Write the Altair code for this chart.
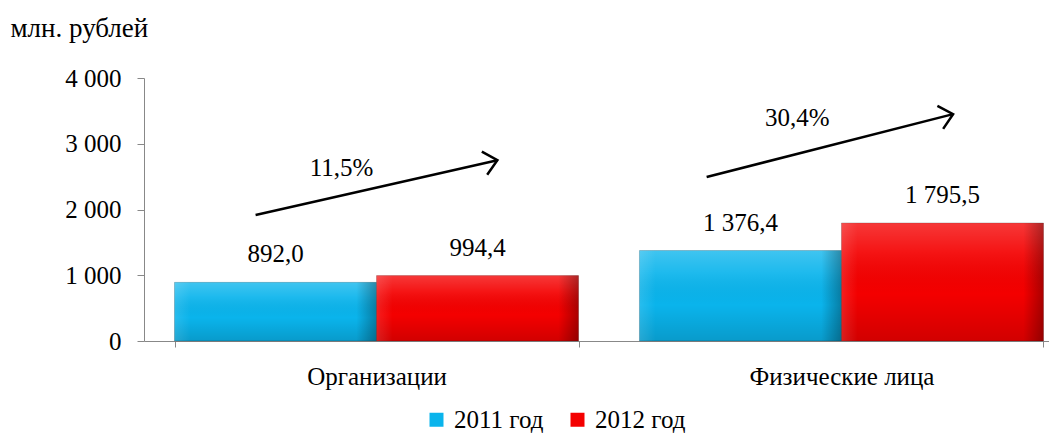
import altair as alt
import pandas as pd

# ---- data ----
categories = ["Организации", "Физические лица"]
years = ["2011 год", "2012 год"]
values_2011 = [892.0, 1376.4]
values_2012 = [994.4, 1795.5]
year_colors = ["#0AB4EC", "#F40000"]

# growth annotations (position in band units / data units)
growth_labels = ["11,5%", "30,4%"]
arrow_x_start = [0.24, 1.21]
arrow_x_end = [0.76, 1.74]
arrow_y_start = [1915, 2495]
arrow_y_end = [2750, 3450]
arrow_angle = [347, 346]
label_x = [0.425, 1.405]
label_y = [2630, 3390]

SERIF = "'Liberation Serif', 'Times New Roman', serif"

rows = []
for i, c in enumerate(categories):
    rows.append({"cat": c, "year": years[0], "v": values_2011[i]})
    rows.append({"cat": c, "year": years[1], "v": values_2012[i]})
bars_df = pd.DataFrame(rows)

arrows_df = pd.DataFrame({
    "x0": arrow_x_start, "x1": arrow_x_end,
    "y0": arrow_y_start, "y1": arrow_y_end,
    "ang": arrow_angle, "lx": label_x, "ly": label_y,
    "lab": growth_labels,
})

y_scale = alt.Scale(domain=[0, 4000], nice=False, zero=True)
y_axis = alt.Axis(values=[0, 1000, 2000, 3000, 4000], grid=False,
                  labelExpr="replace(format(datum.value, ','), ',', ' ')",
                  domainColor="#888888", tickColor="#888888", tickSize=7,
                  labelPadding=16, labelFont=SERIF, labelFontSize=25,
                  labelColor="black",
                  title="млн. рублей", titleAngle=0, titleX=-134, titleY=-50,
                  titleAlign="left", titleBaseline="middle", titleFont=SERIF,
                  titleFontSize=27, titleFontWeight="normal", titleColor="black")


def Y(field):
    return alt.Y(field, scale=y_scale, axis=y_axis, title="млн. рублей")


x_band = alt.X(
    "cat:N", sort=categories,
    scale=alt.Scale(range=[0, 930], paddingInner=0.131, paddingOuter=0.0656),
    axis=alt.Axis(title=None, labelAngle=0, tickBand="extent", tickSize=6,
                  domainColor="#888888", tickColor="#888888",
                  labelFont=SERIF, labelFontSize=25, labelColor="black",
                  labelPadding=17, labelLimit=500),
)
x_off = alt.XOffset("year:N", sort=years, scale=alt.Scale(paddingInner=0, paddingOuter=0))

base = alt.Chart(bars_df)

bars = base.mark_bar(stroke="rgba(0,0,0,0.2)", strokeWidth=1).encode(
    x=x_band, xOffset=x_off, y=Y("v:Q"),
    color=alt.Color(
        "year:N", sort=years,
        scale=alt.Scale(domain=years, range=year_colors),
        legend=alt.Legend(title=None, orient="none", direction="horizontal",
                          legendX=280, legendY=329, padding=0,
                          symbolType="square", symbolSize=196,
                          symbolStrokeWidth=0, symbolOpacity=1,
                          labelFont=SERIF, labelFontSize=25, labelColor="black",
                          labelOffset=5, columnPadding=21),
    ),
)

shade_v = base.mark_bar(
    fill={"gradient": "linear", "x1": 0, "y1": 0, "x2": 0, "y2": 1,
          "stops": [
              {"offset": 0.0, "color": "rgba(255,255,255,0.22)"},
              {"offset": 0.25, "color": "rgba(255,255,255,0.08)"},
              {"offset": 0.6, "color": "rgba(0,0,0,0.0)"},
              {"offset": 1.0, "color": "rgba(0,0,0,0.14)"},
          ]}
).encode(x=x_band, xOffset=x_off, y=Y("v:Q"))

shade_h = base.mark_bar(
    fill={"gradient": "linear", "x1": 0, "y1": 0, "x2": 1, "y2": 0,
          "stops": [
              {"offset": 0.0, "color": "rgba(255,255,255,0.12)"},
              {"offset": 0.08, "color": "rgba(255,255,255,0.0)"},
              {"offset": 0.9, "color": "rgba(0,0,0,0.0)"},
              {"offset": 1.0, "color": "rgba(0,0,0,0.3)"},
          ]}
).encode(x=x_band, xOffset=x_off, y=Y("v:Q"))

labels = base.transform_calculate(
    txt="replace(replace(format(datum.v, ',.1f'), ',', ' '), '.', ',')"
).mark_text(font=SERIF, fontSize=25, color="black", dy=-28, baseline="middle").encode(
    x=x_band, xOffset=x_off, y=Y("v:Q"), text="txt:N"
)

bar_layer = alt.layer(bars, shade_v, shade_h, labels)

x_q = alt.Scale(domain=[0, 2], range=[0, 930], nice=False, zero=False)

arrow_base = alt.Chart(arrows_df)
shafts = arrow_base.mark_rule(color="black", strokeWidth=2.5).encode(
    x=alt.X("x0:Q", scale=x_q, axis=None), x2="x1",
    y=Y("y0:Q"), y2="y1",
)
heads = arrow_base.mark_point(
    shape="M -1 -0.9 L 0 0 L -1 0.9", filled=False, color="black",
    strokeWidth=2.5, size=700, opacity=1,
).encode(
    x=alt.X("x1:Q", scale=x_q, axis=None),
    y=Y("y1:Q"),
    angle=alt.Angle("ang:Q", scale=None),
)
growth = arrow_base.mark_text(font=SERIF, fontSize=25, color="black", baseline="middle").encode(
    x=alt.X("lx:Q", scale=x_q, axis=None),
    y=Y("ly:Q"),
    text="lab:N",
)

arrow_layer = alt.layer(shafts, heads, growth)

chart = alt.layer(bar_layer, arrow_layer).resolve_scale(
    x="independent"
).properties(
    width=905, height=263,
    autosize=alt.AutoSizeParams(type="none"),
    padding={"left": 136, "top": 70, "right": 0, "bottom": 92},
).configure_view(stroke=None)

chart.save("out.html", embed_options={"renderer": "svg", "actions": False})
